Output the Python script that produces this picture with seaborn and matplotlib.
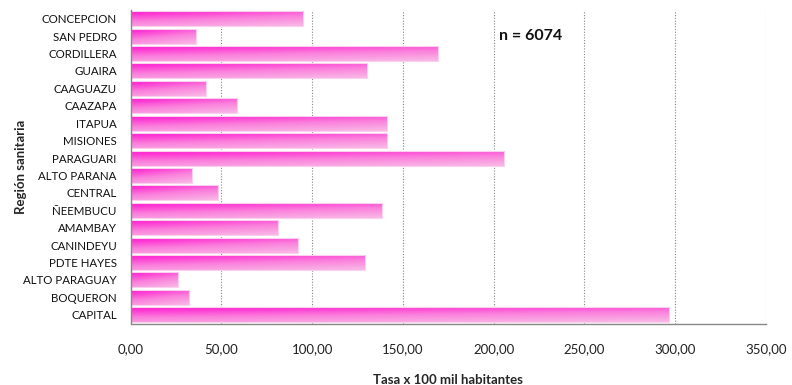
import numpy as np
import pandas as pd
import matplotlib
matplotlib.use("Agg")
import matplotlib.pyplot as plt
from matplotlib.colors import LinearSegmentedColormap
import seaborn as sns

regions = ["CONCEPCION", "SAN PEDRO", "CORDILLERA", "GUAIRA", "CAAGUAZU", "CAAZAPA",
           "ITAPUA", "MISIONES", "PARAGUARI", "ALTO PARANA", "CENTRAL", "ÑEEMBUCU",
           "AMAMBAY", "CANINDEYU", "PDTE HAYES", "ALTO PARAGUAY", "BOQUERON", "CAPITAL"]
tasas = [95.1, 35.8, 169.1, 130.0, 41.3, 58.7,
         141.0, 141.0, 205.8, 33.6, 48.3, 138.3,
         81.0, 92.3, 129.3, 25.9, 32.3, 296.6]
xticks = [0, 50, 100, 150, 200, 250, 300, 350]
xtick_labels = ["0,00", "50,00", "100,00", "150,00", "200,00", "250,00", "300,00", "350,00"]

df = pd.DataFrame({"region": regions, "tasa": tasas})

sns.set_theme(style="white")
plt.rcParams['font.family'] = ['Lato', 'DejaVu Sans']

fig = plt.figure(figsize=(7.92, 3.85), dpi=100)
ax = fig.add_axes([130.7 / 792, 1 - 323.5 / 385, (766 - 130.7) / 792, (323.5 - 10) / 385])

sns.barplot(data=df, x="tasa", y="region", orient="h", ax=ax, color="#ff66d9",
            width=0.86, edgecolor="#fbd0ef", linewidth=0.8)

cmap = LinearSegmentedColormap.from_list("pk", ["#ff1ad0", "#fb7fdc", "#f9b8e6"])
h, w = 20, 60
yy, xx = np.mgrid[0:1:h * 1j, 0:1:w * 1j]
grad = 0.7 * yy + 0.3 * xx
for p in ax.patches:
    x0, y0 = p.get_x(), p.get_y()
    bw, bh = p.get_width(), p.get_height()
    im = ax.imshow(grad, cmap=cmap, aspect="auto", origin="upper",
                   extent=(x0, x0 + bw, y0 + bh, y0), zorder=p.get_zorder() + 0.1,
                   interpolation="bilinear")
    im.set_clip_path(p)
    p.set_facecolor("none")
    p.set_zorder(p.get_zorder() + 0.2)

ax.set_xlim(0, 350)
ax.set_ylim(len(regions) - 0.5, -0.5)
ax.set_xticks(xticks)
ax.set_xticklabels(xtick_labels, fontsize=9.5, color="#222222")
ax.set_yticks(range(len(regions)))
ax.set_yticklabels(regions, fontsize=8.3, color="#111111")
ax.tick_params(axis="y", length=0, pad=10)
ax.set_yticks(np.arange(-0.5, len(regions) + 0.5, 1), minor=True)
ax.tick_params(axis="y", which="minor", length=4, color="#888888", width=1, direction="out")
ax.tick_params(axis="x", length=5, color="#888888", width=1, direction="out", pad=9)

ax.xaxis.grid(True, linestyle=(0, (1, 1.5)), color="#888888", linewidth=0.8)
ax.set_axisbelow(True)
for s in ["top", "right"]:
    ax.spines[s].set_visible(False)
for s in ["left", "bottom"]:
    ax.spines[s].set_color("#888888")
    ax.spines[s].set_linewidth(1)

ax.set_xlabel("Tasa x 100 mil habitantes", fontsize=9.5, fontweight="bold", labelpad=14)
ax.set_ylabel("Región sanitaria", fontsize=9.5, fontweight="bold")
ax.yaxis.set_label_coords(-0.163, 0.5)
ax.text(203, 1.0, "n = 6074", fontsize=11.5, fontweight="bold", va="center", ha="left", color="#111111")

fig.savefig("out.png", dpi=100)
